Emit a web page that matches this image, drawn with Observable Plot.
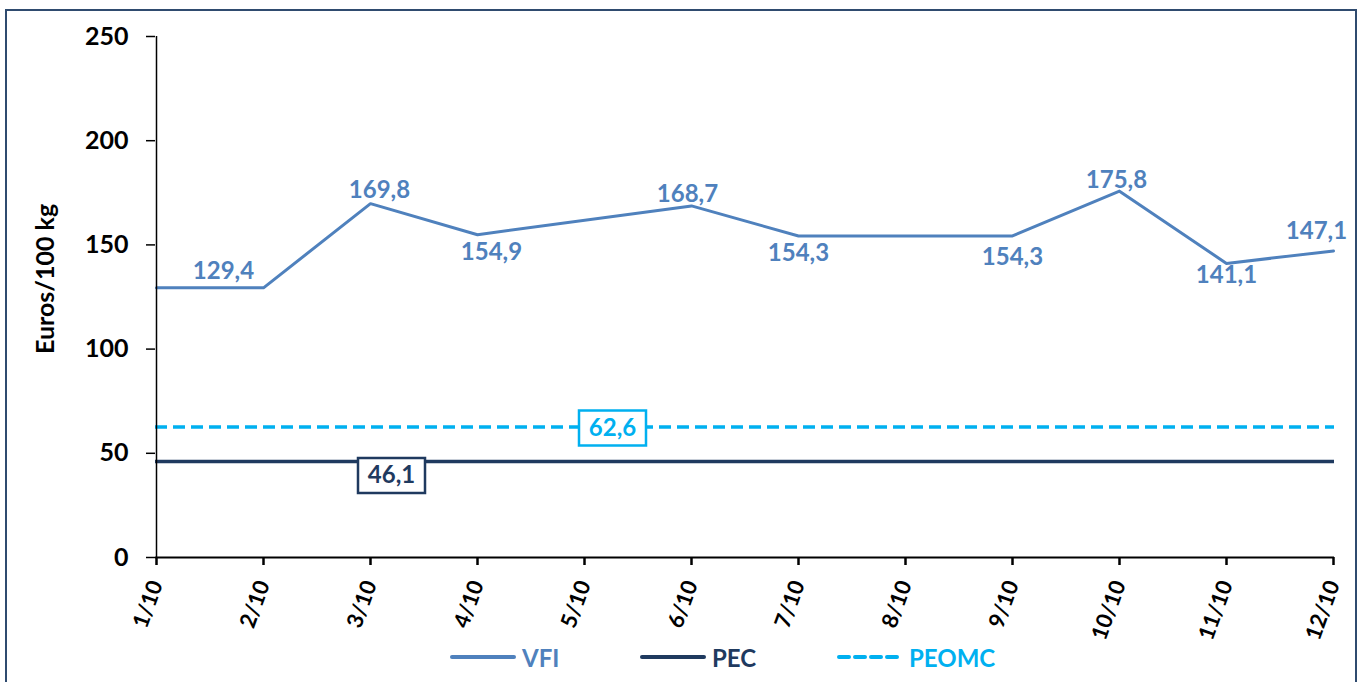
<!DOCTYPE html>
<html><head><meta charset="utf-8">
<script src="https://cdn.jsdelivr.net/npm/d3@7"></script>
<script src="https://cdn.jsdelivr.net/npm/@observablehq/plot@0.6"></script>
<style>
html,body{margin:0;padding:0;background:#fff;width:1367px;height:682px;overflow:hidden;font-family:Lato,sans-serif}
#frame{position:absolute;left:5px;top:9px;width:1352px;height:720px;border:2.5px solid #2f4b6f;box-sizing:border-box}
#chart{position:absolute;left:0;top:0}
#legend{position:absolute;top:641px;left:0;width:1367px;height:32px}
.item{position:absolute;top:0;height:32px;display:flex;align-items:center;font-weight:bold;font-size:24px;font-family:Lato,sans-serif}
.item svg{margin-right:6px}
</style></head><body>
<div id="frame"></div><div id="chart"></div><div id="legend"></div>
<script>
// ---- data ----
const dates = ["1/10","2/10","3/10","4/10","5/10","6/10","7/10","8/10","9/10","10/10","11/10","12/10"];
const vfiValues = [129.4, 129.4, 169.8, 154.9, null, 168.7, 154.3, null, 154.3, 175.8, 141.1, 147.1];
const pecValue = 46.1;
const peomcValue = 62.6;
const yTicks = [0, 50, 100, 150, 200, 250];
const seriesNames = ["VFI", "PEC", "PEOMC"];
const yLabel = "Euros/100 kg";

// ---- styling ----
const colors = {VFI: "#4f81bd", PEC: "#1f3a5f", PEOMC: "#00b0f0"};
const labelOffsets = [null, [-40,-17], [9,-13], [14,18], null, [-4,-12], [0,17], null, [0,21], [-3,-11], [0,12], [-17,-20]];
const fmt = v => v.toFixed(1).replace(".", ",");

const vfiData = dates.map((d, i) => ({date: d, v: vfiValues[i], i}));
const defined = vfiData.filter(d => d.v != null);

const boxSymbol = {draw(ctx) { ctx.rect(-33.5, -17.5, 67, 35); }};

const labelMarks = defined.filter(d => labelOffsets[d.i]).map(d =>
  Plot.text([d], {x: "date", y: "v", text: d => fmt(d.v), dx: labelOffsets[d.i][0], dy: labelOffsets[d.i][1],
    fill: colors.VFI, fontSize: 24, fontWeight: "bold", fontFamily: "Lato"}));

const chart = Plot.plot({
  width: 1367, height: 682,
  marginLeft: 155, marginRight: 33, marginTop: 36, marginBottom: 125,
  style: {background: "transparent", fontFamily: "Lato", color: "black", overflow: "visible"},
  x: {type: "point", domain: dates, padding: 0},
  y: {domain: [0, 250]},
  marks: [
    Plot.ruleY([peomcValue], {stroke: colors.PEOMC, strokeWidth: 3.5, strokeDasharray: "12,6"}),
    Plot.ruleY([pecValue], {stroke: colors.PEC, strokeWidth: 3.5}),
    Plot.line(defined, {x: "date", y: "v", stroke: colors.VFI, strokeWidth: 3}),
    Plot.ruleY([0], {stroke: "black", strokeWidth: 2}),
    Plot.ruleX([dates[0]], {y1: 0, y2: 250, stroke: "black", strokeWidth: 1.5}),
    Plot.axisY({ticks: yTicks, tickSize: 9, tickPadding: 18, fontSize: 25, fontWeight: "bold", label: null, strokeWidth: 1.5}),
    Plot.axisX({tickSize: 8, tickPadding: 16, tickRotate: -70, fontSize: 22, fontWeight: "bold", label: null, strokeWidth: 2.5}),
    Plot.text([yLabel], {frameAnchor: "left", textAnchor: "middle", rotate: -90, dx: -110, dy: -18, fontSize: 25, fontWeight: "bold", fill: "black"}),
    ...labelMarks,
    Plot.dot([{date: dates[4], v: peomcValue}], {x: "date", y: "v", symbol: boxSymbol, dx: 28, dy: 1, fill: "white", stroke: colors.PEOMC, strokeWidth: 2.5}),
    Plot.text([{date: dates[4], v: peomcValue}], {x: "date", y: "v", text: d => fmt(d.v), dx: 28, dy: 1, fill: colors.PEOMC, fontSize: 24, fontWeight: "bold"}),
    Plot.dot([{date: dates[2], v: pecValue}], {x: "date", y: "v", symbol: boxSymbol, dx: 21, dy: 14, fill: "white", stroke: colors.PEC, strokeWidth: 2.5}),
    Plot.text([{date: dates[2], v: pecValue}], {x: "date", y: "v", text: d => fmt(d.v), dx: 21, dy: 14, fill: colors.PEC, fontSize: 24, fontWeight: "bold"})
  ]
});
document.getElementById("chart").appendChild(chart);

// ---- legend ----
const legendPos = {VFI: 450, PEC: 640, PEOMC: 837};
const legend = document.getElementById("legend");
for (const name of seriesNames) {
  const item = document.createElement("div");
  item.className = "item";
  item.style.left = legendPos[name] + "px";
  item.style.color = colors[name];
  const dash = name === "PEOMC" ? 'stroke-dasharray="10,6"' : "";
  item.innerHTML = `<svg width="66" height="10"><line x1="2" y1="5" x2="64" y2="5" stroke="${colors[name]}" stroke-width="4" stroke-linecap="round" ${dash}/></svg>${name}`;
  legend.appendChild(item);
}
</script></body></html>
